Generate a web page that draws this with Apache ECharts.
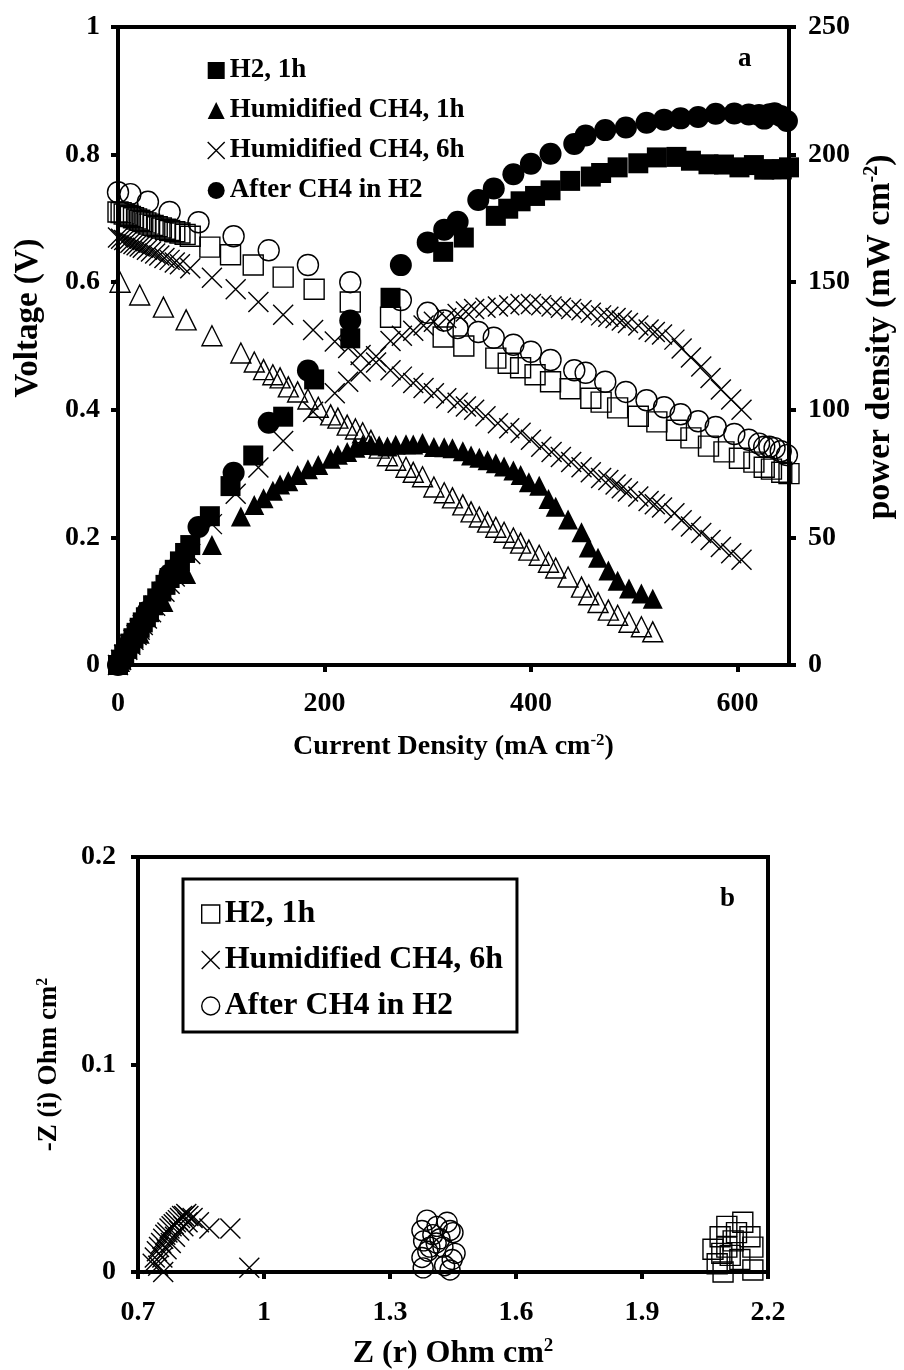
<!DOCTYPE html>
<html>
<head>
<meta charset="utf-8">
<title>Polarisation and impedance</title>
<script src="https://cdn.jsdelivr.net/npm/echarts/dist/echarts.min.js"></script>
<style>
  html, body { margin: 0; padding: 0; background: #fff; }
  #chart { width: 904px; height: 1370px; }
</style>
</head>
<body>
<div id="chart"></div>
<script>
// ---- (a) voltage / power density vs current density ----
const h2Current = [0, 3, 6, 9, 12, 15, 18, 21, 24, 27, 30, 34, 38, 42, 46, 50, 55, 60, 65, 70, 89, 109, 131, 160, 190, 225, 264, 315, 335, 366, 378, 390, 404, 419, 438, 458, 468, 484, 504, 522, 541, 555, 572, 587, 602, 616, 626, 633, 643, 650]
const h2Voltage = [0.710, 0.709, 0.707, 0.705, 0.703, 0.701, 0.699, 0.697, 0.695, 0.693, 0.691, 0.689, 0.687, 0.685, 0.683, 0.681, 0.679, 0.677, 0.675, 0.672, 0.655, 0.643, 0.627, 0.608, 0.589, 0.569, 0.545, 0.514, 0.500, 0.481, 0.473, 0.466, 0.455, 0.444, 0.433, 0.418, 0.412, 0.403, 0.390, 0.381, 0.368, 0.356, 0.343, 0.334, 0.324, 0.318, 0.310, 0.307, 0.302, 0.300]
const h2Power = [0, 2.1, 4.2, 6.3, 8.4, 10.5, 12.6, 14.6, 16.7, 18.7, 20.7, 23.4, 26.1, 28.8, 31.4, 34.1, 37.3, 40.6, 43.9, 47.0, 58.3, 70.1, 82.1, 97.3, 111.9, 128.0, 143.9, 161.9, 167.5, 176.0, 178.8, 181.7, 183.8, 186.0, 189.7, 191.4, 192.8, 195.0, 196.6, 198.9, 199.1, 197.6, 196.2, 196.1, 195.0, 195.9, 194.1, 194.3, 194.2, 195.0]

const ch4_1hCurrent = [2, 21, 44, 66, 91, 119, 132, 141, 150, 157, 165, 174, 184, 194, 206, 213, 222, 230, 237, 245, 253, 261, 269, 279, 286, 295, 306, 316, 324, 334, 342, 350, 358, 366, 374, 383, 390, 398, 408, 417, 424, 436, 449, 456, 465, 475, 484, 495, 507, 518]
const ch4_1hVoltage = [0.600, 0.580, 0.561, 0.541, 0.516, 0.489, 0.475, 0.463, 0.455, 0.450, 0.436, 0.428, 0.417, 0.404, 0.392, 0.387, 0.376, 0.370, 0.364, 0.352, 0.340, 0.328, 0.321, 0.310, 0.302, 0.295, 0.279, 0.270, 0.262, 0.251, 0.240, 0.232, 0.224, 0.216, 0.208, 0.199, 0.191, 0.180, 0.172, 0.161, 0.152, 0.138, 0.122, 0.110, 0.098, 0.086, 0.078, 0.067, 0.060, 0.052]
const ch4_1hPower = [1.2, 12.2, 24.7, 35.7, 47.0, 58.2, 62.7, 65.3, 68.3, 70.7, 72.0, 74.5, 76.7, 78.4, 80.8, 82.4, 83.5, 85.1, 86.3, 86.2, 86.0, 85.6, 86.3, 86.5, 86.4, 87.0, 85.4, 85.3, 84.9, 83.8, 82.1, 81.2, 80.2, 79.1, 77.8, 76.2, 74.5, 71.6, 70.2, 65.0, 62.0, 57.0, 52.0, 46.0, 42.0, 37.0, 33.0, 30.0, 28.0, 26.0]

const ch4_6hCurrent = [0, 3, 6, 9, 12, 15, 18, 21, 24, 28, 32, 36, 40, 45, 50, 55, 60, 70, 91, 114, 136, 160, 189, 210, 223, 235, 250, 264, 275, 286, 296, 306, 318, 329, 337, 345, 356, 368, 379, 390, 400, 410, 420, 429, 439, 449, 458, 468, 475, 482, 488, 494, 504, 514, 520, 527, 539, 546, 555, 565, 574, 584, 594, 604]
const ch4_6hVoltage = [0.670, 0.668, 0.666, 0.664, 0.662, 0.660, 0.658, 0.656, 0.654, 0.651, 0.648, 0.645, 0.642, 0.638, 0.635, 0.631, 0.628, 0.622, 0.607, 0.589, 0.569, 0.549, 0.525, 0.507, 0.497, 0.486, 0.474, 0.462, 0.452, 0.442, 0.434, 0.426, 0.418, 0.411, 0.405, 0.400, 0.390, 0.379, 0.371, 0.364, 0.353, 0.342, 0.334, 0.326, 0.318, 0.310, 0.302, 0.293, 0.290, 0.283, 0.277, 0.272, 0.264, 0.257, 0.252, 0.247, 0.238, 0.227, 0.217, 0.207, 0.196, 0.185, 0.175, 0.165]
const ch4_6hPower = [0, 2.0, 4.0, 6.0, 7.9, 9.9, 11.8, 13.8, 15.7, 18.2, 20.7, 23.2, 25.7, 28.7, 31.8, 34.7, 37.7, 43.5, 55.2, 67.1, 77.4, 87.8, 99.2, 106.5, 111.0, 115.0, 121.0, 127.0, 129.0, 131.0, 133.0, 134.5, 136.0, 137.5, 138.5, 139.5, 140.0, 140.5, 141.0, 141.5, 141.5, 141.0, 140.5, 140.0, 139.5, 139.0, 138.0, 137.0, 136.5, 136.0, 135.0, 134.0, 133.0, 131.5, 130.5, 129.5, 127.5, 124.0, 120.5, 117.0, 112.5, 108.0, 104.0, 100.0]

const afterCurrent = [0, 12, 29, 50, 78, 112, 146, 184, 225, 274, 300, 316, 329, 349, 364, 383, 400, 419, 442, 453, 472, 492, 512, 529, 545, 562, 579, 597, 611, 621, 626, 631, 636, 642, 648]
const afterVoltage = [0.741, 0.738, 0.726, 0.710, 0.694, 0.672, 0.650, 0.627, 0.600, 0.572, 0.552, 0.540, 0.528, 0.522, 0.513, 0.502, 0.491, 0.478, 0.462, 0.458, 0.444, 0.428, 0.415, 0.404, 0.393, 0.382, 0.373, 0.362, 0.353, 0.347, 0.342, 0.342, 0.340, 0.335, 0.329]
const afterPower = [0, 8.9, 21.1, 35.5, 54.1, 75.3, 94.9, 115.4, 135.0, 156.7, 165.6, 170.6, 173.7, 182.2, 186.7, 192.3, 196.4, 200.3, 204.2, 207.5, 209.6, 210.6, 212.5, 213.7, 214.2, 214.7, 216.0, 216.1, 215.7, 215.5, 214.1, 215.8, 216.2, 215.1, 213.2]

// ---- (b) impedance, Z(r) vs -Z(i) ----
const eisH2Re = [2.069, 2.079, 2.086, 2.093, 2.102, 2.102, 2.117, 2.133, 2.140, 2.157, 2.164, 2.164, 2.110, 2.125, 2.090]
const eisH2Im = [0.011, 0.004, 0.017, 0.000, 0.022, 0.012, 0.015, 0.006, 0.024, 0.017, 0.012, 0.001, 0.008, 0.019, 0.009]
const eisCh4Re = [0.735, 0.740, 0.745, 0.750, 0.755, 0.760, 0.765, 0.770, 0.775, 0.780, 0.785, 0.790, 0.795, 0.800, 0.805, 0.810, 0.815, 0.820, 0.830, 0.845, 0.870, 0.920, 0.965, 0.760, 0.748, 0.758, 0.768, 0.778, 0.788, 0.798, 0.808, 0.818]
const eisCh4Im = [0.004, 0.007, 0.010, 0.012, 0.014, 0.016, 0.018, 0.019, 0.021, 0.022, 0.023, 0.024, 0.025, 0.026, 0.027, 0.027, 0.028, 0.027, 0.026, 0.024, 0.021, 0.021, 0.002, 0.000, 0.003, 0.007, 0.011, 0.014, 0.017, 0.020, 0.022, 0.024]
const eisAfterRe = [1.379, 1.376, 1.376, 1.380, 1.388, 1.395, 1.402, 1.410, 1.412, 1.419, 1.426, 1.436, 1.443, 1.450, 1.455, 1.448, 1.443, 1.430, 1.390]
const eisAfterIm = [0.002, 0.007, 0.020, 0.015, 0.025, 0.012, 0.018, 0.014, 0.022, 0.016, 0.012, 0.024, 0.020, 0.019, 0.009, 0.006, 0.001, 0.003, 0.010]

const FONT = '"Liberation Serif", "Times New Roman", serif'
const CROSS = 'path://M0,0L20,20M20,0L0,20'

function pairs(xs, ys) {
  return xs.map((x, i) => [x, ys[i]])
}

const txt = (size) => ({ fontFamily: FONT, fontWeight: 'bold', fontSize: size, color: '#000' })
const sup = (size) => ({ fontFamily: FONT, fontWeight: 'bold', fontSize: size, color: '#000', verticalAlign: 'top', lineHeight: size })

const hollow = { color: 'rgba(0,0,0,0)', borderColor: '#000', borderWidth: 1.4, opacity: 1 }
const solid = { color: '#000', borderWidth: 0, opacity: 1 }
const cross = { color: 'rgba(0,0,0,0)', borderColor: '#000', borderWidth: 1.4, opacity: 1 }

function axisCommon(gridIndex) {
  return {
    gridIndex: gridIndex,
    type: 'value',
    splitLine: { show: false },
    axisLine: { show: true, onZero: false, lineStyle: { color: '#000', width: 4 } },
    axisTick: { show: true, inside: false, length: 7, lineStyle: { color: '#000', width: 4 } },
    axisLabel: Object.assign({ margin: 18 }, txt(28)),
    nameLocation: 'middle'
  }
}

function nameStyle(size, extra) {
  return Object.assign({ lineHeight: size + 2, rich: { s: sup(Math.round(size * 0.6)) } }, txt(size), extra || {})
}

function scatter(name, x, y, xi, yi, symbol, size, style) {
  return {
    name: name,
    type: 'scatter',
    xAxisIndex: xi,
    yAxisIndex: yi,
    symbol: symbol,
    symbolSize: size,
    itemStyle: style,
    clip: false,
    silent: true,
    data: pairs(x, y)
  }
}

const chart = echarts.init(document.getElementById('chart'))

chart.setOption({
  animation: false,
  backgroundColor: '#fff',
  grid: [
    { left: 118, top: 27, width: 671, height: 638, show: true, borderColor: '#000', borderWidth: 4, containLabel: false, outerBoundsMode: 'none' },
    { left: 138, top: 857, width: 630, height: 415, show: true, borderColor: '#000', borderWidth: 4, containLabel: false, outerBoundsMode: 'none' }
  ],
  xAxis: [
    Object.assign(axisCommon(0), {
      min: 0, max: 650, interval: 200,
      axisLabel: Object.assign({ margin: 25, showMaxLabel: false }, txt(28)),
      name: 'Current Density (mA cm{s|-2})',
      nameGap: 67,
      nameTextStyle: nameStyle(28)
    }),
    Object.assign(axisCommon(1), {
      min: 0.7, max: 2.2, interval: 0.3,
      axisLabel: Object.assign({ margin: 27 }, txt(28)),
      name: 'Z (r) Ohm cm{s|2}',
      nameGap: 65,
      nameTextStyle: nameStyle(32)
    })
  ],
  yAxis: [
    Object.assign(axisCommon(0), {
      min: 0, max: 1, interval: 0.2, position: 'left',
      name: 'Voltage (V)', nameRotate: 90, nameGap: 72,
      nameTextStyle: nameStyle(33, { padding: [0, 0, 0, 56] })
    }),
    Object.assign(axisCommon(0), {
      min: 0, max: 250, interval: 50, position: 'right',
      axisLabel: Object.assign({ margin: 19 }, txt(28)),
      name: 'power density (mW cm{s|-2})', nameRotate: 90, nameGap: 73,
      nameTextStyle: nameStyle(34, { padding: [0, 0, 0, 18] })
    }),
    Object.assign(axisCommon(1), {
      min: 0, max: 0.2, interval: 0.1, position: 'left',
      axisLabel: Object.assign({ margin: 22 }, txt(28)),
      name: '-Z (i) Ohm cm{s|2}', nameRotate: 90, nameGap: 74,
      nameTextStyle: nameStyle(27)
    })
  ],
  legend: [
    {
      orient: 'vertical', left: 207, top: 57, padding: 0,
      itemGap: 13, itemWidth: 17, itemHeight: 17,
      textStyle: txt(27),
      data: [
        { name: 'H2, 1h', icon: 'rect', itemStyle: solid },
        { name: 'Humidified CH4, 1h', icon: 'triangle', itemStyle: solid },
        { name: 'Humidified CH4, 6h', icon: CROSS, itemStyle: cross },
        { name: 'After CH4 in H2', icon: 'circle', itemStyle: solid }
      ]
    },
    {
      orient: 'vertical', left: 183, top: 879, padding: [19, 14, 10, 18],
      borderColor: '#000', borderWidth: 3,
      itemGap: 14, itemWidth: 18, itemHeight: 18,
      textStyle: txt(32),
      data: [
        { name: 'H2, 1h', icon: 'rect', itemStyle: hollow },
        { name: 'Humidified CH4, 6h', icon: CROSS, itemStyle: cross },
        { name: 'After CH4 in H2', icon: 'circle', itemStyle: hollow }
      ]
    }
  ],
  graphic: [
    { type: 'text', x: 738, y: 46, style: { text: 'a', fill: '#000', font: 'bold 27px ' + FONT } },
    { type: 'text', x: 720, y: 886, style: { text: 'b', fill: '#000', font: 'bold 27px ' + FONT } }
  ],
  series: [
    // power density (filled markers, right axis)
    scatter('H2, 1h', h2Current, h2Power, 0, 1, 'rect', 20, solid),
    scatter('Humidified CH4, 1h', ch4_1hCurrent, ch4_1hPower, 0, 1, 'triangle', 20, solid),
    scatter('Humidified CH4, 6h', ch4_6hCurrent, ch4_6hPower, 0, 1, CROSS, 20, cross),
    scatter('After CH4 in H2', afterCurrent, afterPower, 0, 1, 'circle', 22, solid),
    // voltage (hollow markers, left axis)
    scatter('H2, 1h', h2Current, h2Voltage, 0, 0, 'rect', 20, hollow),
    scatter('Humidified CH4, 1h', ch4_1hCurrent, ch4_1hVoltage, 0, 0, 'triangle', 20, hollow),
    scatter('Humidified CH4, 6h', ch4_6hCurrent, ch4_6hVoltage, 0, 0, CROSS, 20, cross),
    scatter('After CH4 in H2', afterCurrent, afterVoltage, 0, 0, 'circle', 21, hollow),
    // impedance
    scatter('H2, 1h', eisH2Re, eisH2Im, 1, 2, 'rect', 20, hollow),
    scatter('Humidified CH4, 6h', eisCh4Re, eisCh4Im, 1, 2, CROSS, 20, cross),
    scatter('After CH4 in H2', eisAfterRe, eisAfterIm, 1, 2, 'circle', 20, hollow)
  ]
})
</script>
</body>
</html>
